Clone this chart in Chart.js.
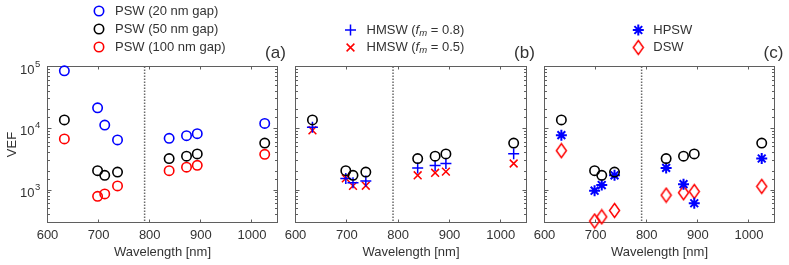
<!DOCTYPE html>
<html>
<head>
<meta charset="utf-8">
<script src="https://cdn.jsdelivr.net/npm/chart.js@4.4.1/dist/chart.umd.min.js"></script>
<style>
  body { margin: 0; background: #fff; }
  #wrap { position: relative; width: 789px; height: 265px; overflow: hidden; }
  canvas { position: absolute; top: 0; }
</style>
</head>
<body>
<div id="wrap">
  <canvas id="panelA" width="300" height="265" style="left:0px"></canvas>
  <canvas id="panelB" width="280" height="265" style="left:270px"></canvas>
  <canvas id="panelC" width="269" height="265" style="left:520px"></canvas>
</div>
<script>
// wavelengths shared by every series (nm)
const wavelengths = [633, 698, 712, 737, 838, 872, 893, 1025];

// VEF values
const psw20  = [85000, 21500, 11300, 6500, 6900, 7600, 8200, 12000];
const psw50  = [13700, 2070, 1740, 1960, 3240, 3540, 3850, 5780];
const psw100 = [6750, 795, 870, 1170, 2070, 2350, 2520, 3800];
const hmsw08 = [10400, 1550, 1320, 1410, 2290, 2500, 2700, 3890];
const hmsw05 = [9300, 1550, 1170, 1180, 1740, 1910, 2000, 2700];
const hpsw   = [7760, 980, 1210, 1740, 2290, 1250, 615, 3250];
const dsw    = [4360, 317, 370, 470, 830, 910, 950, 1150];

const xTicks = [600, 700, 800, 900, 1000];
const yDecades = [1e3, 1e4, 1e5];
const divider = 790; // dotted line between the two wavelength bands

const FONT = "'Liberation Sans', Arial, sans-serif";
const textCol = '#333333';
const axisCol = '#5f5f5f';

Chart.defaults.font.family = FONT;
Chart.defaults.color = textCol;

// tall MATLAB-like diamond, used as a point style
function makeDiamond() {
  const c = document.createElement('canvas');
  c.width = 13; c.height = 17;
  const g = c.getContext('2d');
  g.strokeStyle = '#ff0000';
  g.lineWidth = 1.5;
  g.beginPath();
  g.moveTo(6.5, 1.5); g.lineTo(11.5, 8.5); g.lineTo(6.5, 15.5); g.lineTo(1.5, 8.5);
  g.closePath();
  g.stroke();
  return c;
}
const diamond = makeDiamond();

function pts(ys) {
  return wavelengths.map((w, i) => ({ x: w, y: ys[i] }));
}

function series(ys, style, color, radius, width) {
  return {
    data: pts(ys),
    pointStyle: style,
    pointRadius: radius,
    pointBorderColor: color,
    pointBackgroundColor: 'rgba(0,0,0,0)',
    pointBorderWidth: width,
    showLine: false,
    clip: false
  };
}

// draw a marker for the legend in the same way the points look
function drawMarker(ctx, ds, x, y) {
  const style = ds.pointStyle, r = ds.pointRadius;
  ctx.save();
  ctx.strokeStyle = ds.pointBorderColor;
  ctx.lineWidth = ds.pointBorderWidth;
  if (style instanceof HTMLCanvasElement) {
    ctx.drawImage(style, x - style.width / 2, y - style.height / 2);
    ctx.restore();
    return;
  }
  ctx.beginPath();
  if (style === 'circle') {
    ctx.arc(x, y, r, 0, Math.PI * 2);
  }
  if (style === 'cross' || style === 'star') {
    ctx.moveTo(x - r, y); ctx.lineTo(x + r, y);
    ctx.moveTo(x, y - r); ctx.lineTo(x, y + r);
  }
  if (style === 'crossRot' || style === 'star') {
    const d = r * Math.SQRT1_2;
    ctx.moveTo(x - d, y - d); ctx.lineTo(x + d, y + d);
    ctx.moveTo(x - d, y + d); ctx.lineTo(x + d, y - d);
  }
  ctx.stroke();
  ctx.restore();
}

function drawRich(ctx, parts, x, y) {
  let cx = x;
  parts.forEach(p => {
    const size = p.sub ? 9.5 : 13;
    ctx.font = (p.italic ? 'italic ' : '') + size + 'px ' + FONT;
    ctx.fillText(p.t, cx, y + (p.sub ? 3 : 0));
    cx += ctx.measureText(p.t).width;
  });
}

function makeFrame(cfg) {
  return {
    id: 'frame',
    beforeDatasetsDraw(chart) {
      const { ctx, chartArea: a, scales: { x, y } } = chart;
      ctx.save();
      ctx.strokeStyle = axisCol;
      ctx.lineWidth = 1;
      ctx.strokeRect(a.left, a.top, a.right - a.left, a.bottom - a.top);
      ctx.beginPath();
      y.ticks.forEach(t => {
        const py = Math.round(y.getPixelForValue(t.value) - 0.5) + 0.5;
        const lg = Math.log10(t.value);
        const len = Math.abs(lg - Math.round(lg)) < 1e-9 ? 4 : 2.5;
        ctx.moveTo(a.left, py); ctx.lineTo(a.left + len, py);
        ctx.moveTo(a.right, py); ctx.lineTo(a.right - len, py);
      });
      x.ticks.forEach(t => {
        const px = Math.round(x.getPixelForValue(t.value) - 0.5) + 0.5;
        ctx.moveTo(px, a.bottom); ctx.lineTo(px, a.bottom - 3);
        ctx.moveTo(px, a.top); ctx.lineTo(px, a.top + 3);
      });
      ctx.stroke();

      const dx = x.getPixelForValue(divider);
      ctx.setLineDash([1.5, 1.5]);
      ctx.lineWidth = 1.5;
      ctx.strokeStyle = '#6a6a6a';
      ctx.beginPath();
      ctx.moveTo(dx, a.top);
      ctx.lineTo(dx, a.bottom);
      ctx.stroke();
      ctx.restore();
    },
    afterDraw(chart) {
      const { ctx, scales: { y } } = chart;
      ctx.save();
      ctx.fillStyle = textCol;
      ctx.textBaseline = 'middle';

      // legend
      cfg.legend.forEach((item, i) => {
        const ly = cfg.legendY + i * cfg.legendGap;
        drawMarker(ctx, chart.data.datasets[item.ds], cfg.markerX, ly);
        ctx.textAlign = 'left';
        drawRich(ctx, item.parts, cfg.textX, ly);
      });

      // panel letter
      ctx.font = '17px ' + FONT;
      ctx.textAlign = 'center';
      ctx.fillText(cfg.label, cfg.labelX, 53);

      // y tick labels as powers of ten
      if (cfg.yLabels) {
        yDecades.forEach(v => {
          const py = y.getPixelForValue(v);
          ctx.font = '13px ' + FONT;
          ctx.textAlign = 'right';
          ctx.fillText('10', 34.5, py + 3.5);
          ctx.font = '9.5px ' + FONT;
          ctx.textAlign = 'left';
          ctx.fillText(String(Math.round(Math.log10(v))), 35, py - 2.5);
        });
      }
      ctx.restore();
    }
  };
}

function makePanel(id, datasets, cfg) {
  return new Chart(document.getElementById(id), {
    type: 'scatter',
    data: { datasets: datasets },
    options: {
      responsive: false,
      animation: false,
      events: [],
      layout: { padding: { top: 66.5, left: cfg.padLeft, right: cfg.padRight, bottom: 0 } },
      plugins: { legend: { display: false }, tooltip: { enabled: false } },
      scales: {
        x: {
          type: 'linear',
          min: 600,
          max: 1050,
          afterBuildTicks: s => { s.ticks = xTicks.map(v => ({ value: v })); },
          afterFit: s => { s.height = 42.5; },
          grid: { display: false, drawTicks: false },
          border: { display: false },
          ticks: { font: { size: 13 }, color: textCol, padding: 5, autoSkip: false, maxRotation: 0,
                   callback: v => String(v) },
          title: { display: true, text: 'Wavelength [nm]', font: { size: 13 }, color: textCol, padding: { top: 0, bottom: 4.5 } }
        },
        y: {
          type: 'logarithmic',
          min: 300,
          max: 100000,
          display: cfg.yLabels,
          afterFit: s => { s.width = cfg.yLabels ? 47.5 : 0; },
          grid: { display: false, drawTicks: false },
          border: { display: false },
          ticks: { display: false },
          title: { display: cfg.yLabels, text: 'VEF', font: { size: 13 }, color: textCol, padding: { top: 5, bottom: 0 } }
        }
      }
    },
    plugins: [makeFrame(cfg)]
  });
}

const black = () => series(psw50, 'circle', '#000000', 4.7, 1.6);

makePanel('panelA', [
  series(psw20, 'circle', '#0000ff', 4.7, 1.6),
  black(),
  series(psw100, 'circle', '#ff0000', 4.7, 1.6)
], {
  padLeft: 0, padRight: 22.5, yLabels: true,
  label: '(a)', labelX: 275.5,
  markerX: 99, textX: 115, legendY: 11, legendGap: 18,
  legend: [
    { ds: 0, parts: [{ t: 'PSW (20 nm gap)' }] },
    { ds: 1, parts: [{ t: 'PSW (50 nm gap)' }] },
    { ds: 2, parts: [{ t: 'PSW (100 nm gap)' }] }
  ]
});

makePanel('panelB', [
  black(),
  series(hmsw08, 'cross', '#0000ff', 5.5, 1.5),
  series(hmsw05, 'crossRot', '#ff0000', 5.5, 1.5)
], {
  padLeft: 25.5, padRight: 23.5, yLabels: false,
  label: '(b)', labelX: 254.5,
  markerX: 80.5, textX: 96.5, legendY: 30, legendGap: 17.5,
  legend: [
    { ds: 1, parts: [{ t: 'HMSW (' }, { t: 'f', italic: true }, { t: 'm', italic: true, sub: true }, { t: ' = 0.8)' }] },
    { ds: 2, parts: [{ t: 'HMSW (' }, { t: 'f', italic: true }, { t: 'm', italic: true, sub: true }, { t: ' = 0.5)' }] }
  ]
});

makePanel('panelC', [
  black(),
  series(hpsw, 'star', '#0000ff', 5.5, 2),
  series(dsw, diamond, '#ff0000', 6, 1.5)
], {
  padLeft: 24.5, padRight: 14.5, yLabels: false,
  label: '(c)', labelX: 253.5,
  markerX: 118.3, textX: 133.3, legendY: 30, legendGap: 17.5,
  legend: [
    { ds: 1, parts: [{ t: 'HPSW' }] },
    { ds: 2, parts: [{ t: 'DSW' }] }
  ]
});
</script>
</body>
</html>
